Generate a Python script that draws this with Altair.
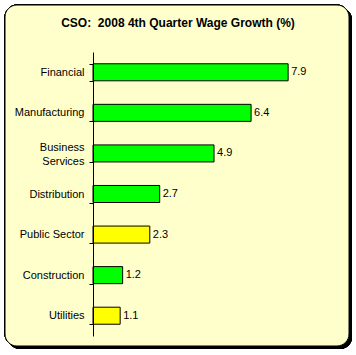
import altair as alt
import pandas as pd

categories = ["Financial", "Manufacturing", "Business Services", "Distribution",
              "Public Sector", "Construction", "Utilities"]
values = [7.9, 6.4, 4.9, 2.7, 2.3, 1.2, 1.1]
groups = ["private", "private", "private", "private", "public", "private", "public"]
group_domain = ["private", "public"]
group_colors = ["#00FF00", "#FFFF00"]
title_text = ["CSO:\u00a0 2008 4th Quarter Wage Growth (%)"]

df = pd.DataFrame({"category": categories, "value": values, "group": groups})
title_df = pd.DataFrame({"t": title_text})

W, H = 247, 284
FONT = "Liberation Sans"

y_enc = alt.Y("category:N", sort=categories,
              scale=alt.Scale(paddingInner=0.58, paddingOuter=0.29),
              axis=alt.Axis(title=None, tickBand="extent", tickSize=4, labelPadding=5,
                            labelFont=FONT, labelFontSize=11, labelColor="black",
                            labelLineHeight=14,
                            labelOffset={"condition": {"test": "datum.label == 'Business Services'", "value": -6}, "value": 0},
                            domainColor="black", tickColor="black", zindex=1,
                            labelExpr="datum.label == 'Business Services' ? ['Business', 'Services'] : datum.label"))
x_enc = alt.X("value:Q", scale=alt.Scale(domain=[0, 10]), axis=None)

base = alt.Chart(df)

shadow = base.mark_rect(fill="black", cornerRadius=12).encode(
    x=alt.value(-85), x2=alt.value(259), y=alt.value(-44), y2=alt.value(297))
panel = base.mark_rect(fill="#FFFFCC", stroke="black", strokeWidth=1, cornerRadius=12).encode(
    x=alt.value(-88), x2=alt.value(256), y=alt.value(-47), y2=alt.value(294))

bars = base.mark_bar(stroke="black", strokeWidth=1).encode(
    y=y_enc, x=x_enc,
    color=alt.Color("group:N", scale=alt.Scale(domain=group_domain, range=group_colors), legend=None))
labels = base.mark_text(align="left", baseline="middle", dx=3, font=FONT, fontSize=11, color="black").encode(
    y=alt.Y("category:N", sort=categories), x="value:Q", text=alt.Text("value:Q", format=".1f"))

title = alt.Chart(title_df).mark_text(align="center", baseline="alphabetic", font=FONT, fontSize=12,
                                      fontWeight="bold", color="black").encode(
    x=alt.value(85), y=alt.value(-25), text="t:N")

chart = alt.layer(shadow, panel, bars, labels, title).properties(
    width=W, height=H,
    autosize=alt.AutoSizeParams(type="none"),
    padding={"left": 93, "top": 52, "right": 16, "bottom": 19},
    background="white",
).configure_view(stroke=None)

chart.save("out.html", embed_options={"renderer": "svg", "actions": False})
